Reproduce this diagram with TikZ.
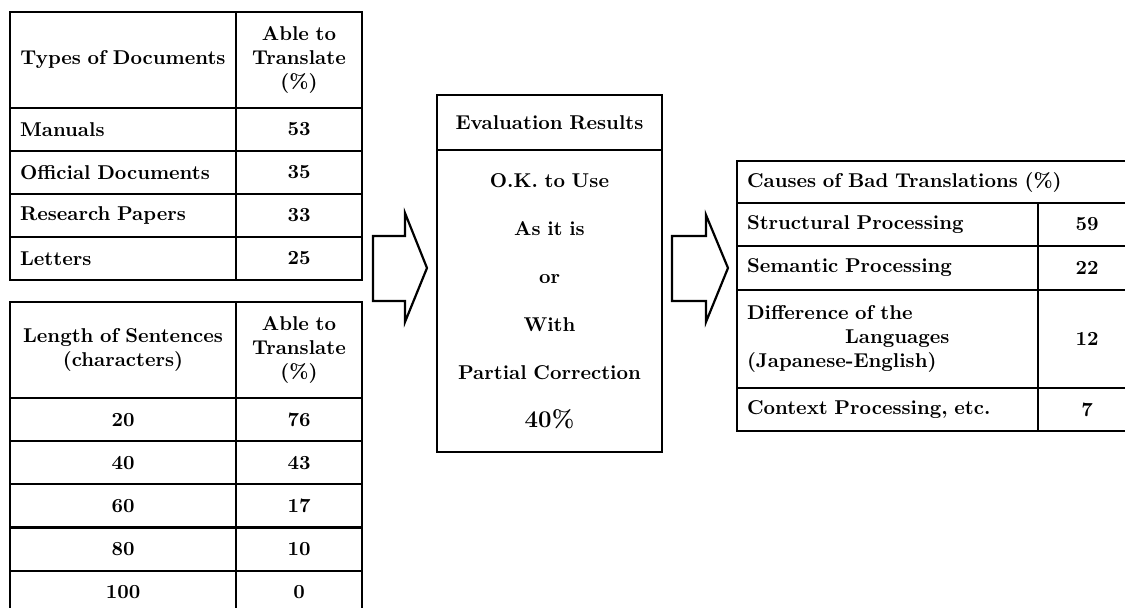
\documentclass[tikz,border=0pt]{standalone}
\usepackage{tikz}
\usetikzlibrary{ positioning, % For easy node-relative placements
               }
\tikzstyle{cell} = [rectangle, draw=black, line width=1.1pt, inner xsep=5pt, inner ysep=0pt, font=\bfseries, align=center]
\tikzstyle{namecol} = [cell, text width=103pt]
\tikzstyle{valcol} = [cell, text width=53pt]
\tikzstyle{causecol} = [cell, text width=140.5pt, align=left]
\tikzstyle{causeval} = [cell, text width=39pt]
\tikzstyle{headrow} = [minimum height=48pt]
\tikzstyle{row} = [minimum height=21.6pt]
\tikzstyle{bigarrow} = [draw=black, line width=1.1pt, line join=miter]

\begin{document}
\begin{tikzpicture}[x=0.5pt, y=-0.5pt]
  \useasboundingbox (0,0) rectangle (1125,608);
  \clip (0,0) rectangle (1125,608);

  % types of documents
  \node (docs) [namecol, headrow] at (123, 60) {Types of Documents};
  \node (docs_v) [valcol, headrow] at (299, 60) {Able to\\Translate\\(\%)};
  \node (man) [namecol, row, align=left] at (123, 129.5) {Manuals};
  \node (man_v) [valcol, row] at (299, 129.5) {53};
  \node (off) [namecol, row, align=left] at (123, 172.5) {Official Documents};
  \node (off_v) [valcol, row] at (299, 172.5) {35};
  \node (res) [namecol, row, align=left] at (123, 215.5) {Research Papers};
  \node (res_v) [valcol, row] at (299, 215.5) {33};
  \node (let) [namecol, row, align=left] at (123, 258.5) {Letters};
  \node (let_v) [valcol, row] at (299, 258.5) {25};

  % length of sentences
  \node (len) [namecol, headrow] at (123, 350) {Length of Sentences\\(characters)};
  \node (len_v) [valcol, headrow] at (299, 350) {Able to\\Translate\\(\%)};
  \node (l20) [namecol, row] at (123, 419.6) {20};
  \node (l20_v) [valcol, row] at (299, 419.6) {76};
  \node (l40) [namecol, row] at (123, 462.8) {40};
  \node (l40_v) [valcol, row] at (299, 462.8) {43};
  \node (l60) [namecol, row] at (123, 506) {60};
  \node (l60_v) [valcol, row] at (299, 506) {17};
  \node (l80) [namecol, row] at (123, 549.2) {80};
  \node (l80_v) [valcol, row] at (299, 549.2) {10};
  \node (l100) [namecol, row] at (123, 592.4) {100};
  \node (l100_v) [valcol, row] at (299, 592.4) {0};

  % evaluation
  \node (eval) [cell, text width=102.5pt, minimum height=27.5pt] at (549.5, 122.5) {Evaluation Results};
  \node (result) [cell, text width=102.5pt, minimum height=151pt] at (549.5, 301)
    {O.K. to Use\\[12pt] As it is\\[12pt] or\\[12pt] With\\[12pt] Partial Correction\\[12pt] {\large\bfseries 40\%}};

  % causes
  \node (causes) [cell, text width=189.5pt, minimum height=21pt, align=left] at (936.5, 182) {Causes of Bad Translations (\%)};
  \node (struct) [causecol, minimum height=21.5pt] at (887.5, 224.5) {Structural Processing};
  \node (struct_v) [causeval, minimum height=21.5pt] at (1087, 224.5) {59};
  \node (sem) [causecol, minimum height=22pt] at (887.5, 268) {Semantic Processing};
  \node (sem_v) [causeval, minimum height=22pt] at (1087, 268) {22};
  \node (diff) [causecol, minimum height=49pt] at (887.5, 339) {Difference of the\\\hspace*{49pt}Languages\\(Japanese-English)};
  \node (diff_v) [causeval, minimum height=49pt] at (1087, 339) {12};
  \node (ctx) [causecol, minimum height=21.5pt] at (887.5, 409.5) {Context Processing, etc.};
  \node (ctx_v) [causeval, minimum height=21.5pt] at (1087, 409.5) {7};

  % block arrows
  \draw [bigarrow] (373,236) -- (405,236) -- (405,213) -- (427,268) -- (405,322) -- (405,301) -- (373,301) -- cycle;
  \draw [bigarrow] (672,236) -- (706,236) -- (706,215) -- (728,268) -- (706,322) -- (706,301) -- (672,301) -- cycle;

\end{tikzpicture}
\end{document}
